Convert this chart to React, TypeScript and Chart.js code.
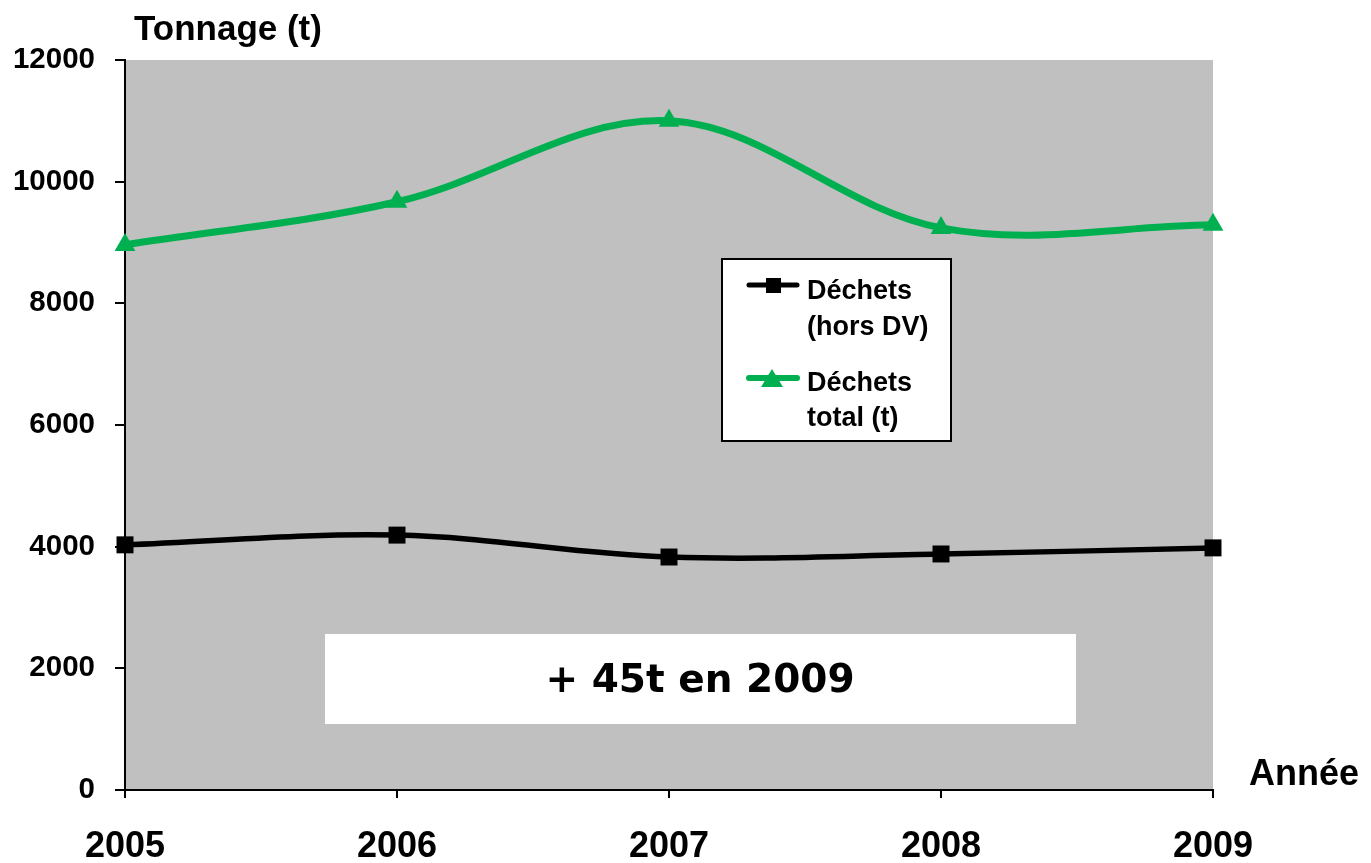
import React, { useEffect, useRef } from "react";
import { Chart, registerables } from "chart.js";

Chart.register(...registerables);

const years = ["2005", "2006", "2007", "2008", "2009"];
const dechetsHorsDV = [4030, 4190, 3830, 3880, 3980];
const dechetsTotal = [8960, 9670, 11000, 9240, 9290];
const yTicks = [0, 2000, 4000, 6000, 8000, 10000, 12000];

const FONT = "'Liberation Sans', Arial, sans-serif";
const GREEN = "#00B050";

const decorPlugin = {
  id: "decor",
  beforeDraw(chart: any) {
    const { ctx, chartArea } = chart;
    ctx.save();
    ctx.fillStyle = "#C0C0C0";
    ctx.fillRect(chartArea.left, chartArea.top, chartArea.right - chartArea.left, chartArea.bottom - chartArea.top);
    ctx.restore();
  },
  afterDraw(chart: any) {
    const { ctx } = chart;
    ctx.save();
    // axis titles
    ctx.fillStyle = "#000";
    ctx.textBaseline = "alphabetic";
    ctx.textAlign = "left";
    ctx.font = `bold 35px ${FONT}`;
    ctx.fillText("Tonnage (t)", 134, 40);
    ctx.font = `bold 36px ${FONT}`;
    ctx.fillText("Année", 1249, 785);

    // annotation box
    ctx.fillStyle = "#FFFFFF";
    ctx.fillRect(325, 634, 751, 90);
    ctx.fillStyle = "#000";
    ctx.textAlign = "center";
    ctx.textBaseline = "alphabetic";
    ctx.font = `bold 39px 'DejaVu Sans', sans-serif`;
    ctx.fillText("+ 45t en 2009", 700, 692);

    // legend
    ctx.fillStyle = "#FFFFFF";
    ctx.fillRect(722, 259, 229, 182);
    ctx.strokeStyle = "#000";
    ctx.lineWidth = 2;
    ctx.strokeRect(722, 259, 229, 182);

    // entry 1
    ctx.strokeStyle = "#000";
    ctx.lineWidth = 5;
    ctx.lineCap = "round";
    ctx.beginPath();
    ctx.moveTo(749, 285);
    ctx.lineTo(797, 285);
    ctx.stroke();
    ctx.fillStyle = "#000";
    ctx.fillRect(766, 278, 15, 15);

    // entry 2
    ctx.strokeStyle = GREEN;
    ctx.lineWidth = 6;
    ctx.beginPath();
    ctx.moveTo(749, 378);
    ctx.lineTo(797, 378);
    ctx.stroke();
    ctx.fillStyle = GREEN;
    ctx.beginPath();
    ctx.moveTo(772, 369);
    ctx.lineTo(783, 387);
    ctx.lineTo(761, 387);
    ctx.closePath();
    ctx.fill();

    ctx.fillStyle = "#000";
    ctx.textAlign = "left";
    ctx.font = `bold 27px ${FONT}`;
    ctx.fillText("Déchets", 807, 299);
    ctx.fillText("(hors DV)", 807, 335);
    ctx.fillText("Déchets", 807, 391);
    ctx.fillText("total (t)", 807, 426);
    ctx.restore();
  },
};

export default function App() {
  const ref = useRef<HTMLCanvasElement | null>(null);

  useEffect(() => {
    document.body.style.margin = "0";
    const canvas = ref.current;
    if (!canvas) return;
    const chart = new Chart(canvas, {
      type: "line",
      data: {
        labels: years,
        datasets: [
          {
            label: "Déchets (hors DV)",
            data: dechetsHorsDV,
            borderColor: "#000",
            backgroundColor: "#000",
            borderWidth: 5.5,
            pointStyle: "rect",
            pointRadius: 12,
            pointBorderWidth: 0,
            tension: 0.35,
          },
          {
            label: "Déchets total (t)",
            data: dechetsTotal,
            borderColor: GREEN,
            backgroundColor: GREEN,
            borderWidth: 7,
            pointStyle: "triangle",
            pointRadius: 12,
            pointBorderWidth: 0,
            tension: 0.35,
          },
        ],
      },
      options: {
        responsive: false,
        animation: false,
        devicePixelRatio: 1,
        layout: { padding: { left: 0, right: 158, top: 60, bottom: 0 } },
        plugins: {
          legend: { display: false },
          tooltip: { enabled: false },
          title: { display: false },
        },
        scales: {
          x: {
            type: "category",
            offset: false,
            grid: { drawOnChartArea: false, drawTicks: true, tickLength: 8, color: "#000", lineWidth: 2 },
            border: { display: true, color: "#000", width: 2 },
            ticks: {
              color: "#000",
              font: { family: FONT, size: 36, weight: "bold" },
              padding: 27,
              maxRotation: 0,
              autoSkip: false,
            },
            afterFit(scale: any) {
              scale.height = 73;
            },
          },
          y: {
            min: 0,
            max: 12000,
            afterBuildTicks(scale: any) {
              scale.ticks = yTicks.map((v) => ({ value: v }));
            },
            grid: { drawOnChartArea: false, drawTicks: true, tickLength: 10, color: "#000", lineWidth: 2 },
            border: { display: true, color: "#000", width: 2 },
            ticks: {
              color: "#000",
              font: { family: FONT, size: 29.5, weight: "bold" },
              padding: 20,
              callback: (v: any) => String(v),
            },
            afterFit(scale: any) {
              scale.width = 125;
            },
          },
        },
      },
      plugins: [decorPlugin],
    });
    return () => chart.destroy();
  }, []);

  return <canvas ref={ref} width={1371} height={863} style={{ display: "block" }} />;
}
